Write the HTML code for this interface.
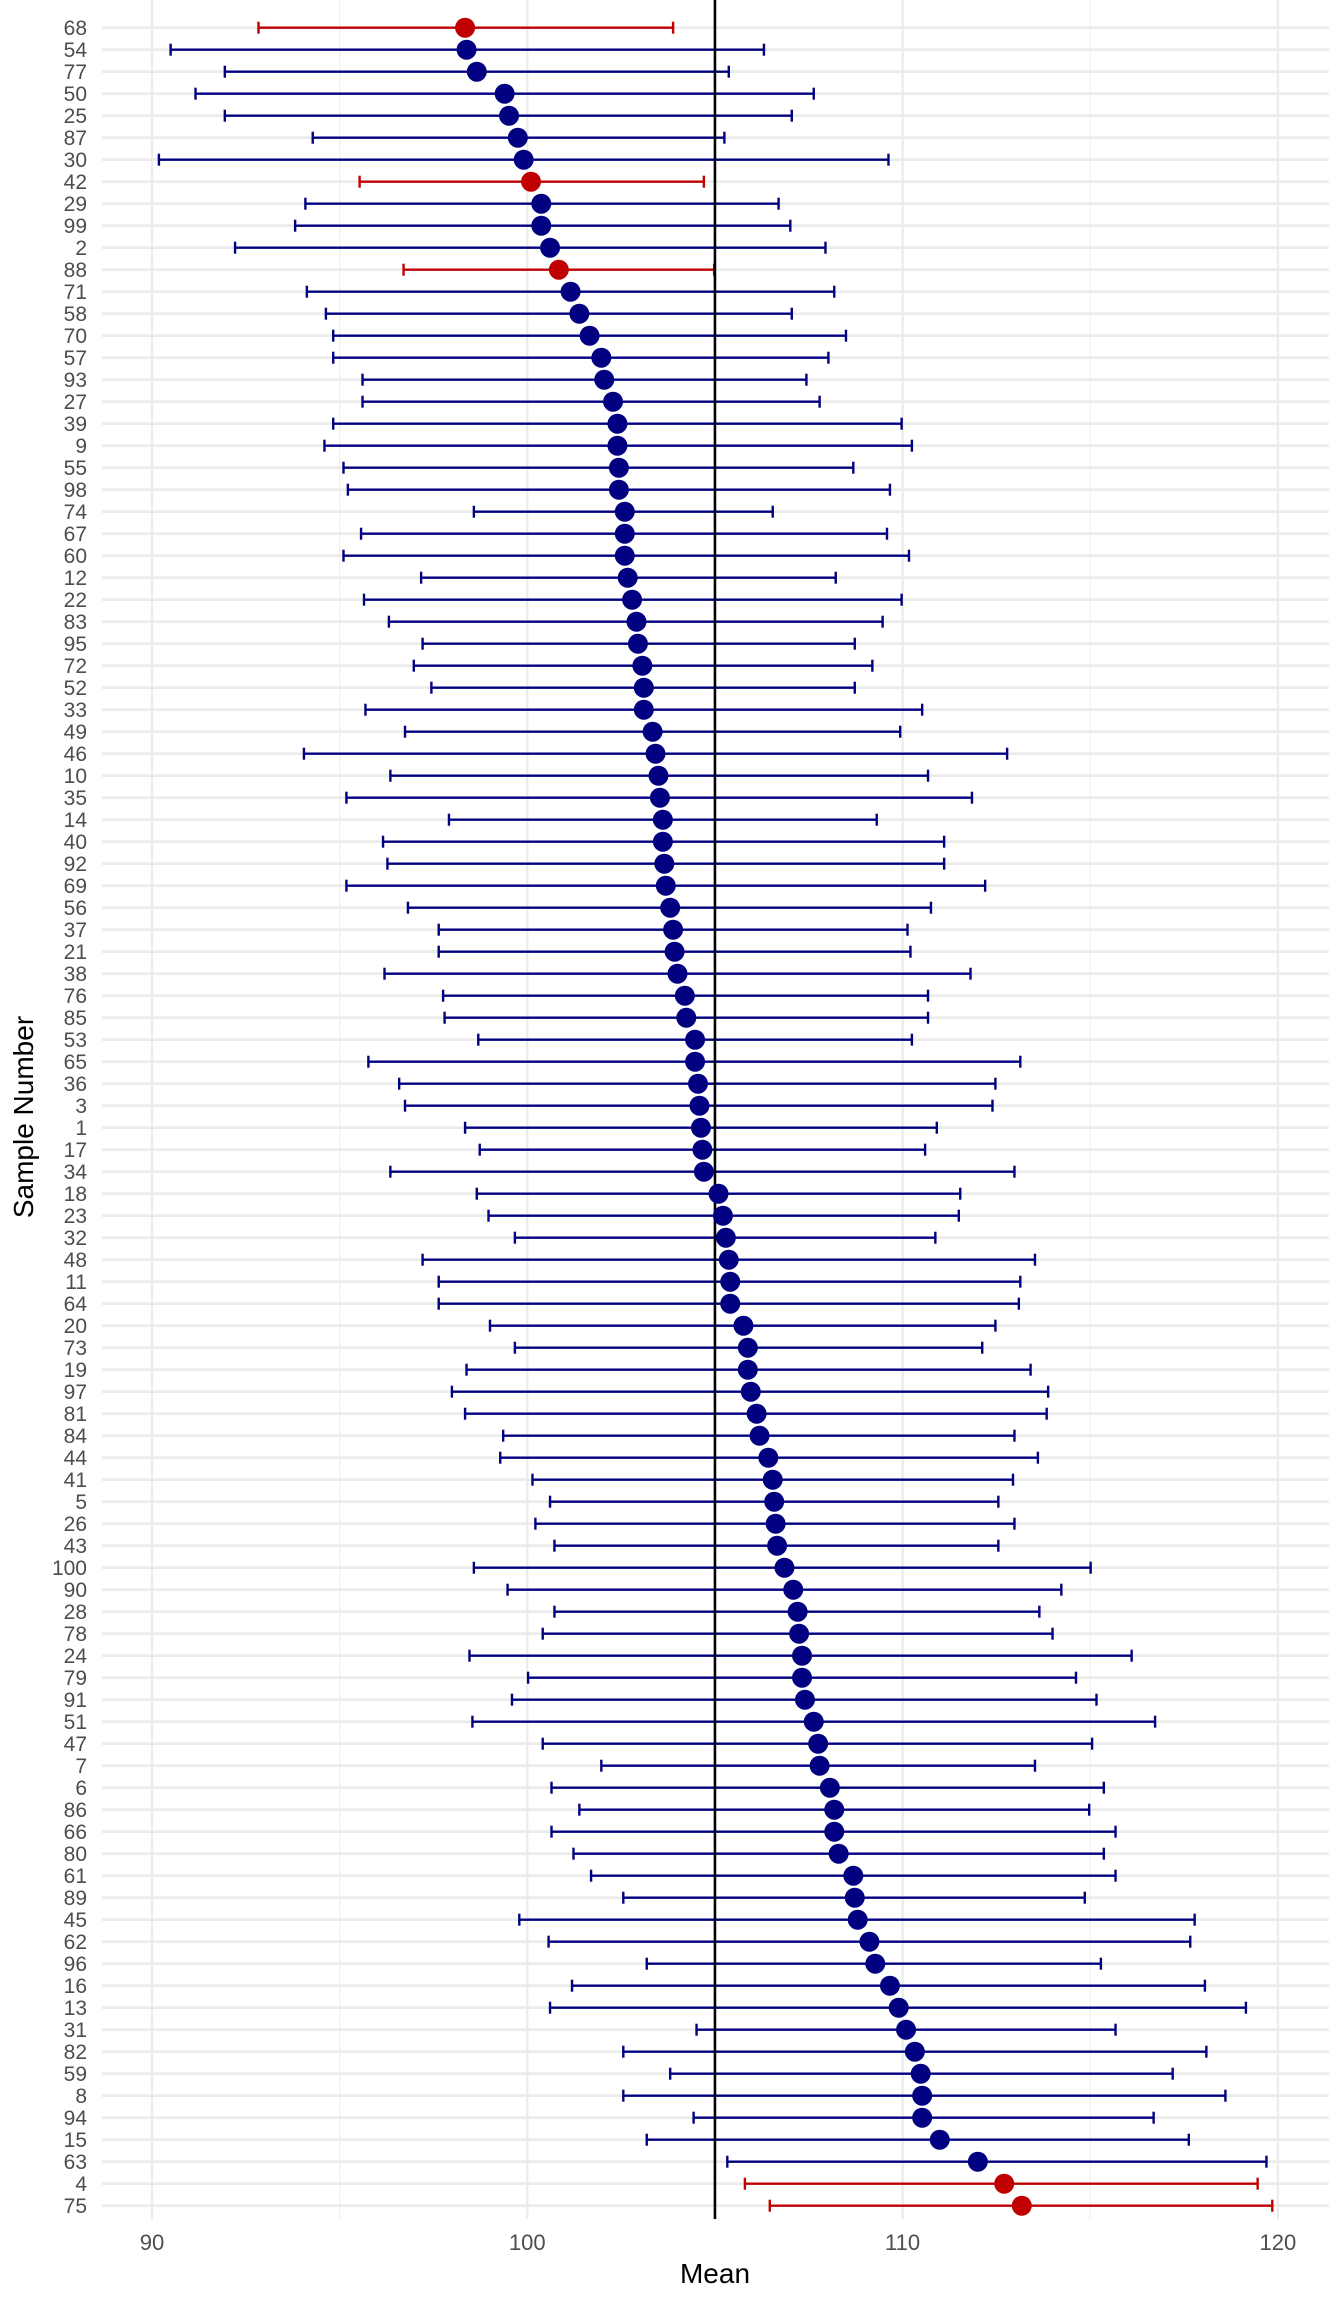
<!DOCTYPE html>
<html><head><meta charset="utf-8"><style>
html,body{margin:0;padding:0;background:#fff;}
svg{display:block;font-family:"Liberation Sans",sans-serif;}
</style></head><body>
<svg id="s" width="1344" height="2304" viewBox="0 0 1344 2304" xmlns="http://www.w3.org/2000/svg">
<rect width="1344" height="2304" fill="#fff"/>
<g id="grid"></g>
<g id="data"></g>
<text x="715" y="2283" font-size="28" text-anchor="middle" fill="#000">Mean</text>
<text transform="translate(33,1117) rotate(-90)" font-size="28" text-anchor="middle" fill="#000">Sample Number</text>
</svg>
<script>
var D=[
["68",174,315,457,1],["54",114,316,519],["77",151,323,495],["50",131,342,553],["25",151,345,538],
["87",211,351,492],["30",106,355,604],["42",243,360,478,1],["29",206,367,529],["99",199,367,537],
["2",158,373,561],["88",273,379,485,1],["71",207,387,567],["58",220,393,538],["70",225,400,575],
["57",225,408,563],["93",245,410,548],["27",245,416,557],["39",225,419,613],["9",219,419,620],
["55",232,420,580],["98",235,420,605],["74",321,424,525],["67",244,424,603],["60",232,424,618],
["12",285,426,568],["22",246,429,613],["83",263,432,600],["95",286,433,581],["72",280,436,593],
["52",292,437,581],["33",247,437,627],["49",274,443,612],["46",205,445,685],["10",264,447,631],
["35",234,448,661],["14",304,450,596],["40",259,450,642],["92",262,451,642],["69",234,452,670],
["56",276,455,633],["37",297,457,617],["21",297,458,619],["38",260,460,660],["76",300,465,631],
["85",301,466,631],["53",324,472,620],["65",249,472,694],["36",270,474,677],["3",274,475,675],
["1",315,476,637],["17",325,477,629],["34",264,478,690],["18",323,488,653],["23",331,491,652],
["32",349,493,636],["48",286,495,704],["11",297,496,694],["64",297,496,693],["20",332,505,677],
["73",349,508,668],["19",316,508,701],["97",306,510,713],["81",315,514,712],["84",341,516,690],
["44",339,522,706],["41",361,525,689],["5",373,526,679],["26",363,527,690],["43",376,528,679],
["100",321,533,742],["90",344,539,722],["28",376,542,707],["78",368,543,716],["24",318,545,770],
["79",358,545,732],["91",347,547,746],["51",320,553,786],["47",368,556,743],["7",408,557,704],
["6",374,564,751],["86",393,567,741],["66",374,567,759],["80",389,570,751],["61",401,580,759],
["89",423,581,738],["45",352,583,813],["62",372,591,810],["96",439,595,749],["16",388,605,820],
["13",373,611,848],["31",473,616,759],["82",423,622,821],["59",455,626,798],["8",423,627,834],
["94",471,627,785],["15",439,639,809],["63",494,665,862],["4",506,683,856,1],["75",523,695,866,1]];
function X(x){return 154.5+(x-103)*1.465;}
function V(v){return 152+(v-90)*37.53;}
var ns="http://www.w3.org/2000/svg";
function el(p,t,a,txt){var e=document.createElementNS(ns,t);for(var k in a)e.setAttribute(k,a[k]);if(txt!==undefined)e.textContent=txt;p.appendChild(e);return e;}
var g=document.getElementById("grid"),d=document.getElementById("data");
var top=15,bot=2219;
[95,105,115].forEach(function(v){el(g,"line",{x1:V(v),x2:V(v),y1:top,y2:bot,stroke:"#f0f0f0","stroke-width":1.2});});
[90,100,110,120].forEach(function(v){el(g,"line",{x1:V(v),x2:V(v),y1:top,y2:bot,stroke:"#ebebeb","stroke-width":2.2});
 el(g,"text",{x:V(v),y:2250,"font-size":22,"text-anchor":"middle",fill:"#4d4d4d"},String(v));});
for(var i=0;i<D.length;i++){
 var y=27.7+i*22.0,r=D[i],c=r[4]?"#c00000":"#000080";
 el(g,"line",{x1:102,x2:1329,y1:y,y2:y,stroke:"#ebebeb","stroke-width":2.6});
 el(g,"text",{x:87,y:y+7.5,"font-size":21,"text-anchor":"end",fill:"#4d4d4d"},r[0]);
 var a=X(r[1]),b=X(r[3]);
 el(d,"line",{x1:a,x2:b,y1:y,y2:y,stroke:c,"stroke-width":2.4});
 el(d,"line",{x1:a,x2:a,y1:y-6,y2:y+6,stroke:c,"stroke-width":2.4});
 el(d,"line",{x1:b,x2:b,y1:y-6,y2:y+6,stroke:c,"stroke-width":2.4});
}
el(d,"line",{x1:V(105),x2:V(105),y1:top,y2:bot,stroke:"#000","stroke-width":2.6});
for(var i=0;i<D.length;i++){var y=27.7+i*22.0,r=D[i];
 el(d,"circle",{cx:X(r[2]),cy:y,r:10,fill:r[4]?"#c00000":"#000080"});}
</script>
</body></html>
